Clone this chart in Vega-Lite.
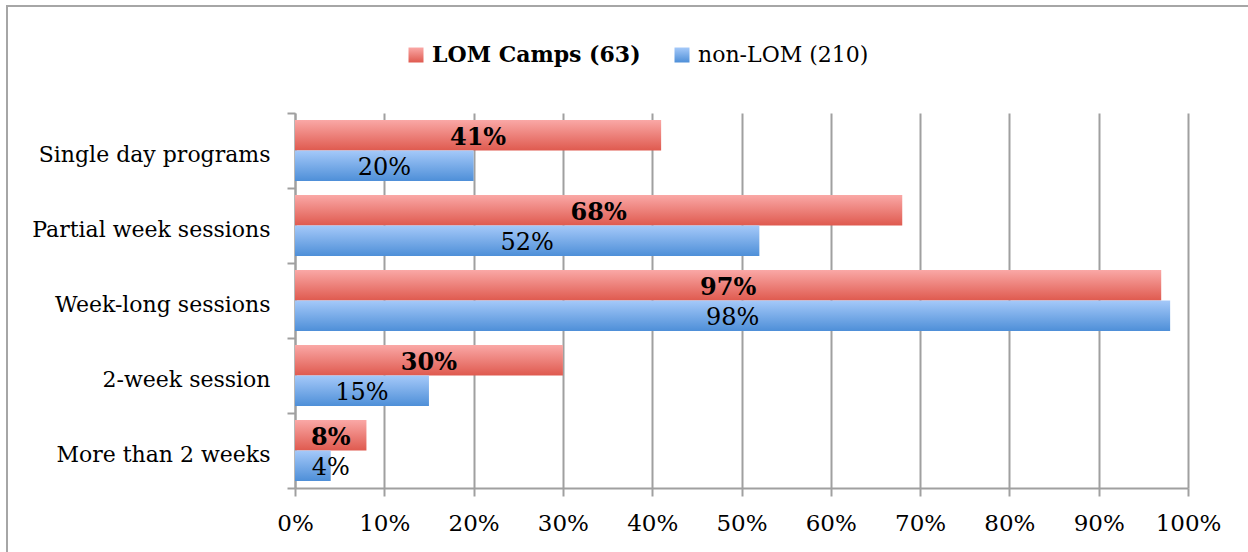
{
  "$schema": "https://vega.github.io/schema/vega-lite/v6.json",
  "width": 1245,
  "height": 589,
  "autosize": {"type": "none"},
  "padding": {"left": 7, "top": 6, "right": -4, "bottom": -43},
  "background": "white",
  "config": {
    "font": "DejaVu Serif",
    "view": {"stroke": "#a6a6a6", "strokeWidth": 2}
  },
  "data": {
    "values": [
      {"activity": "Single day programs", "group": "LOM Camps (63)", "share": 0.41},
      {"activity": "Single day programs", "group": "non-LOM (210)", "share": 0.20},
      {"activity": "Partial week sessions", "group": "LOM Camps (63)", "share": 0.68},
      {"activity": "Partial week sessions", "group": "non-LOM (210)", "share": 0.52},
      {"activity": "Week-long sessions", "group": "LOM Camps (63)", "share": 0.97},
      {"activity": "Week-long sessions", "group": "non-LOM (210)", "share": 0.98},
      {"activity": "2-week session", "group": "LOM Camps (63)", "share": 0.30},
      {"activity": "2-week session", "group": "non-LOM (210)", "share": 0.15},
      {"activity": "More than 2 weeks", "group": "LOM Camps (63)", "share": 0.08},
      {"activity": "More than 2 weeks", "group": "non-LOM (210)", "share": 0.04}
    ]
  },
  "transform": [
    {"calculate": "max(datum.share / 2, 0.04)", "as": "labelPos"}
  ],
  "encoding": {
    "y": {
      "field": "activity",
      "type": "nominal",
      "sort": ["Single day programs", "Partial week sessions", "Week-long sessions", "2-week session", "More than 2 weeks"],
      "scale": {"range": [107, 482], "paddingInner": 0, "paddingOuter": 0},
      "axis": {
        "title": null,
        "offset": -288,
        "tickBand": "extent",
        "domainColor": "#a0a0a0",
        "domainWidth": 2,
        "tickColor": "#a0a0a0",
        "tickWidth": 2,
        "tickSize": 8,
        "labelFontSize": 22,
        "labelColor": "black",
        "labelPadding": 17,
        "labelOffset": 4,
        "labelLimit": 400,
        "grid": false
      }
    },
    "yOffset": {
      "field": "group",
      "type": "nominal",
      "sort": ["LOM Camps (63)", "non-LOM (210)"],
      "scale": {"paddingInner": 0, "paddingOuter": 0.23}
    }
  },
  "layer": [
    {
      "mark": {"type": "bar"},
      "encoding": {
        "x": {
          "field": "share",
          "type": "quantitative",
          "scale": {"domain": [0, 1], "range": [288, 1181], "nice": false},
          "axis": {
            "title": null,
            "orient": "bottom",
            "offset": -107,
            "format": "%",
            "values": [0, 0.1, 0.2, 0.3, 0.4, 0.5, 0.6, 0.7, 0.8, 0.9, 1],
            "grid": true,
            "gridColor": "#a0a0a0",
            "gridWidth": 2,
            "domainColor": "#a0a0a0",
            "domainWidth": 2,
            "tickColor": "#a0a0a0",
            "tickWidth": 2,
            "tickSize": 8,
            "labelFontSize": 23,
            "labelColor": "black",
            "labelPadding": 16,
            "labelFlush": false
          }
        },
        "color": {
          "field": "group",
          "type": "nominal",
          "scale": {
            "domain": ["LOM Camps (63)", "non-LOM (210)"],
            "range": [
              {"expr": "{gradient: 'linear', x1: 0, y1: 0, x2: 0, y2: 1, stops: [{offset: 0, color: '#faa8a6'}, {offset: 1, color: '#df5a4f'}]}"},
              {"expr": "{gradient: 'linear', x1: 0, y1: 0, x2: 0, y2: 1, stops: [{offset: 0, color: '#a5c9f9'}, {offset: 1, color: '#4e8fd8'}]}"}
            ]
          },
          "legend": {
            "title": null,
            "orient": "none",
            "direction": "horizontal",
            "legendX": 398,
            "legendY": 38,
            "padding": 0,
            "symbolType": "square",
            "symbolSize": 225,
            "symbolOffset": 0,
            "symbolStrokeWidth": 0,
            "labelFontSize": 22,
            "labelColor": "black",
            "labelOffset": 5,
            "labelLimit": 0,
            "columnPadding": 30,
            "encode": {
              "labels": {
                "update": {
                  "fontWeight": {"signal": "datum.value === 'LOM Camps (63)' ? 'bold' : 'normal'"}
                }
              }
            }
          }
        }
      }
    },
    {
      "transform": [{"filter": "datum.group === 'LOM Camps (63)'"}],
      "mark": {"type": "text", "fontSize": 24, "fontWeight": "bold", "color": "black", "baseline": "middle", "align": "center", "dy": 3},
      "encoding": {
        "x": {"field": "labelPos", "type": "quantitative"},
        "text": {"field": "share", "type": "quantitative", "format": ".0%"}
      }
    },
    {
      "transform": [{"filter": "datum.group === 'non-LOM (210)'"}],
      "mark": {"type": "text", "fontSize": 24, "color": "black", "baseline": "middle", "align": "center", "dy": 2},
      "encoding": {
        "x": {"field": "labelPos", "type": "quantitative"},
        "text": {"field": "share", "type": "quantitative", "format": ".0%"}
      }
    }
  ]
}
